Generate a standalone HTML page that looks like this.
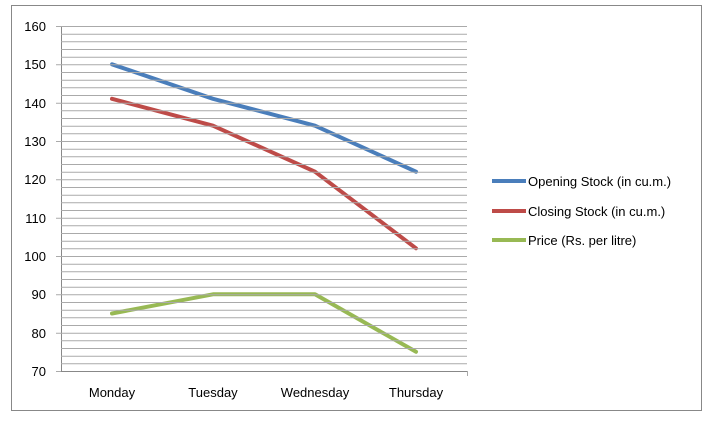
<!DOCTYPE html><html><head><style>body{margin:0;background:#fff}svg{display:block;font-family:"Liberation Sans",sans-serif}</style></head><body>
<svg width="718" height="425" viewBox="0 0 718 425">
<rect x="11.5" y="5.5" width="690" height="405" fill="#fff" stroke="#888"/>
<g stroke="#b0b0b0" stroke-width="1">
<script>/*no*/</script>
</g>
<g id="grid" stroke="#aaa" stroke-width="1"></g>
<g font-size="13" fill="#000" text-anchor="end" id="yl"></g>
<line x1="61.5" y1="26" x2="61.5" y2="371" stroke="#888"/>
<line x1="61" y1="371.5" x2="467" y2="371.5" stroke="#888"/>
<g font-size="13" text-anchor="middle">
<text x="112" y="397">Monday</text><text x="213" y="397">Tuesday</text><text x="315" y="397">Wednesday</text><text x="416" y="397">Thursday</text></g>
<g fill="none" stroke-width="4" stroke-linecap="round" stroke-linejoin="round">
<polyline stroke="#4a7ebb" points="112,64.3 213,98.8 315,125.7 416,171.7"/>
<polyline stroke="#be4b48" points="112,98.8 213,125.7 315,171.7 416,248.3"/>
<polyline stroke="#98b954" points="112,313.5 213,294.3 315,294.3 416,351.8"/>
</g>
<g stroke-width="4"><line x1="492" y1="181" x2="526" y2="181" stroke="#4a7ebb"/><line x1="492" y1="211" x2="526" y2="211" stroke="#be4b48"/><line x1="492" y1="240" x2="526" y2="240" stroke="#98b954"/></g>
<g font-size="13"><text x="528" y="186">Opening Stock (in cu.m.)</text><text x="528" y="216">Closing Stock (in cu.m.)</text><text x="528" y="245">Price (Rs. per litre)</text></g>
<g font-size="13" text-anchor="end">
<text x="46" y="31">160</text><text x="46" y="69">150</text><text x="46" y="108">140</text><text x="46" y="146">130</text><text x="46" y="184">120</text><text x="46" y="223">110</text><text x="46" y="261">100</text><text x="46" y="299">90</text><text x="46" y="338">80</text><text x="46" y="376">70</text></g>
<path stroke="#aaa" fill="none" d="M61 26.5H467M61 34.2H467M61 41.8H467M61 49.5H467M61 57.2H467M61 64.8H467M61 72.5H467M61 80.2H467M61 87.8H467M61 95.5H467M61 103.2H467M61 110.8H467M61 118.5H467M61 126.2H467M61 133.8H467M61 141.5H467M61 149.2H467M61 156.8H467M61 164.5H467M61 172.2H467M61 179.8H467M61 187.5H467M61 195.2H467M61 202.8H467M61 210.5H467M61 218.2H467M61 225.8H467M61 233.5H467M61 241.2H467M61 248.8H467M61 256.5H467M61 264.2H467M61 271.8H467M61 279.5H467M61 287.2H467M61 294.8H467M61 302.5H467M61 310.2H467M61 317.8H467M61 325.5H467M61 333.2H467M61 340.8H467M61 348.5H467M61 356.2H467M61 363.8H467M56 26.5H61M56 64.8H61M56 103.2H61M56 141.5H61M56 179.8H61M56 218.2H61M56 256.5H61M56 294.8H61M56 333.2H61M56 371.5H61M467.5 371V376"/>
</svg></body></html>
